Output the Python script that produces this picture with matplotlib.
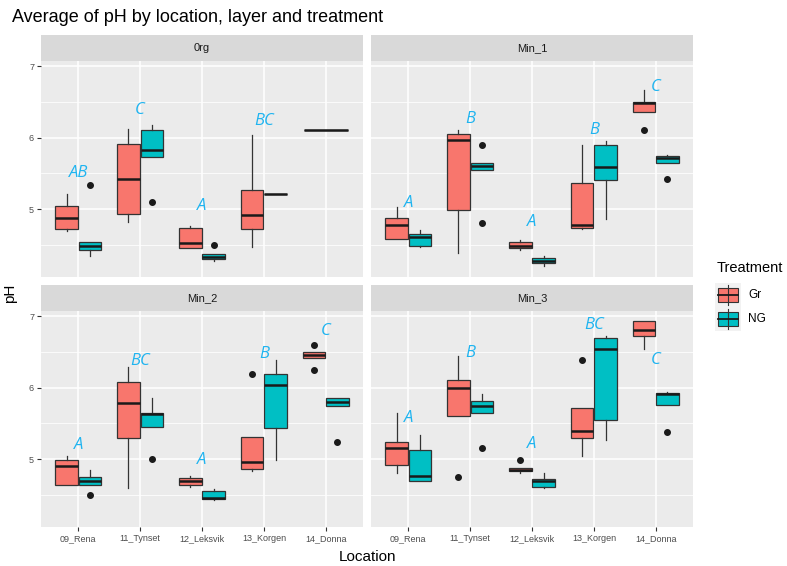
import matplotlib.pyplot as plt
from matplotlib.patches import Rectangle

plt.rcParams['font.family'] = ['Liberation Sans', 'DejaVu Sans']

locations = ['09_Rena', '11_Tynset', '12_Leksvik', '13_Korgen', '14_Donna']
layers = ['0rg', 'Min_1', 'Min_2', 'Min_3']
treatments = ['Gr', 'NG']
colors = {'Gr': '#F8766D', 'NG': '#00BFC4'}

# box stats per location: (whisker low, q1, median, q3, whisker high)
org_gr = [(4.69, 4.72, 4.87, 5.04, 5.21), (4.82, 4.93, 5.42, 5.91, 6.12), (4.46, 4.46, 4.52, 4.74, 4.77),
          (4.47, 4.72, 4.92, 5.26, 6.04), (6.11, 6.11, 6.11, 6.11, 6.11)]
org_ng = [(4.35, 4.43, 4.48, 4.54, 4.54), (5.73, 5.73, 5.83, 6.10, 6.17), (4.28, 4.30, 4.33, 4.37, 4.37),
          (5.21, 5.21, 5.21, 5.21, 5.21), None]
org_gr_out = [[], [], [], [], []]
org_ng_out = [[5.33], [5.10], [4.50], [], []]

min1_gr = [(4.58, 4.58, 4.78, 4.87, 5.03), (4.38, 4.99, 5.96, 6.05, 6.10), (4.43, 4.45, 4.49, 4.54, 4.57),
           (4.72, 4.74, 4.78, 5.36, 5.90), (6.35, 6.35, 6.48, 6.49, 6.66)]
min1_ng = [(4.47, 4.49, 4.61, 4.65, 4.71), (5.55, 5.55, 5.60, 5.64, 5.64), (4.20, 4.24, 4.28, 4.31, 4.34),
           (4.86, 5.41, 5.59, 5.89, 5.95), (5.64, 5.64, 5.72, 5.74, 5.76)]
min1_gr_out = [[], [], [], [], [6.11]]
min1_ng_out = [[], [5.90, 4.81], [], [], [5.42]]

min2_gr = [(4.64, 4.64, 4.90, 4.98, 5.04), (4.59, 5.29, 5.79, 6.08, 6.29), (4.61, 4.64, 4.70, 4.74, 4.76),
           (4.83, 4.86, 4.96, 5.31, 5.31), (6.41, 6.41, 6.45, 6.49, 6.49)]
min2_ng = [(4.64, 4.64, 4.69, 4.75, 4.84), (5.45, 5.45, 5.63, 5.65, 5.85), (4.43, 4.44, 4.45, 4.55, 4.58),
           (4.99, 5.44, 6.03, 6.19, 6.39), (5.74, 5.74, 5.80, 5.85, 5.85)]
min2_gr_out = [[], [], [], [6.19], [6.59, 6.25]]
min2_ng_out = [[4.50], [5.00], [], [], [5.24]]

min3_gr = [(4.81, 4.92, 5.15, 5.24, 5.65), (5.60, 5.60, 5.99, 6.11, 6.44), (4.81, 4.83, 4.85, 4.87, 4.87),
           (5.04, 5.29, 5.39, 5.71, 5.71), (6.54, 6.72, 6.80, 6.93, 6.93)]
min3_ng = [(4.69, 4.69, 4.76, 5.13, 5.34), (5.65, 5.65, 5.74, 5.81, 5.91), (4.59, 4.61, 4.70, 4.72, 4.81),
           (5.26, 5.55, 6.54, 6.69, 6.72), (5.76, 5.76, 5.91, 5.92, 5.94)]
min3_gr_out = [[], [4.75], [4.98], [6.39], []]
min3_ng_out = [[], [5.15], [], [], [5.38]]

# significance letters and their heights
org_letters = ['AB', 'C', 'A', 'BC', '']
org_letter_y = [5.50, 6.38, 5.04, 6.23, 0]
min1_letters = ['A', 'B', 'A', 'B', 'C']
min1_letter_y = [5.08, 6.26, 4.82, 6.11, 6.70]
min2_letters = ['A', 'BC', 'A', 'B', 'C']
min2_letter_y = [5.19, 6.37, 4.99, 6.47, 6.79]
min3_letters = ['A', 'B', 'A', 'BC', 'C']
min3_letter_y = [5.57, 6.48, 5.21, 6.87, 6.38]

panels = [
    (org_gr, org_ng, org_gr_out, org_ng_out, org_letters, org_letter_y),
    (min1_gr, min1_ng, min1_gr_out, min1_ng_out, min1_letters, min1_letter_y),
    (min2_gr, min2_ng, min2_gr_out, min2_ng_out, min2_letters, min2_letter_y),
    (min3_gr, min3_ng, min3_gr_out, min3_ng_out, min3_letters, min3_letter_y),
]

W, H = 787, 566
fig = plt.figure(figsize=(W / 100, H / 100), dpi=100)

def frac(x0, y0, x1, y1):
    return [x0 / W, 1 - y1 / H, (x1 - x0) / W, (y1 - y0) / H]

panel_px = [(41, 61, 363, 277), (371, 61, 693, 277), (41, 311, 363, 527), (371, 311, 693, 527)]
edge = '#333333'

for i, (layer, data, px) in enumerate(zip(layers, panels, panel_px)):
    gr, ng, gr_out, ng_out, letters, letter_y = data
    ax = fig.add_axes(frac(*px))
    ax.set_facecolor('#EBEBEB')
    for s in ax.spines.values():
        s.set_visible(False)
    ax.set_xlim(0.4, 5.6)
    ax.set_ylim(4.05, 7.07)
    ax.set_yticks([5, 6, 7])
    ax.set_yticks([4.5, 5.5, 6.5], minor=True)
    ax.set_xticks(range(1, 6))
    ax.grid(True, which='major', color='white', linewidth=1.1)
    ax.grid(True, which='minor', axis='y', color='white', linewidth=0.55)
    ax.set_axisbelow(True)
    ax.tick_params(which='minor', length=0)
    ax.tick_params(which='major', length=3, color='#333333', width=0.8, labelsize=6.5, labelcolor='#4D4D4D', pad=2)
    if i % 2 == 0:
        ax.set_yticklabels(['5', '6', '7'])
    else:
        ax.tick_params(axis='y', length=0, labelleft=False)
    if i >= 2:
        ax.set_xticklabels(locations)
    else:
        ax.tick_params(axis='x', length=0, labelbottom=False)

    for t, stats_list, outs, off in [('Gr', gr, gr_out, -0.1875), ('NG', ng, ng_out, 0.1875)]:
        for j, st in enumerate(stats_list):
            if st is None:
                continue
            pos = j + 1 + off
            width = 0.36
            # single-treatment location takes the full dodge width
            if t == 'Gr' and ng[j] is None:
                pos, width = j + 1, 0.72
            lo, q1, med, q3, hi = st
            stat = dict(whislo=lo, q1=q1, med=med, q3=q3, whishi=hi, fliers=outs[j])
            ax.bxp([stat], positions=[pos], widths=width, patch_artist=True,
                   boxprops=dict(facecolor=colors[t], edgecolor=edge, linewidth=0.9),
                   medianprops=dict(color='#1A1A1A', linewidth=1.8),
                   whiskerprops=dict(color=edge, linewidth=0.9),
                   capprops=dict(linewidth=0),
                   flierprops=dict(marker='o', markersize=4, markerfacecolor='#1A1A1A',
                                   markeredgecolor='#1A1A1A'),
                   manage_ticks=False)
    for j, (lab, ly) in enumerate(zip(letters, letter_y)):
        if lab:
            ax.text(j + 1, ly, lab, ha='center', va='center', color='#1FB4F0',
                    fontsize=12, style='italic', family=['Open Sans', 'DejaVu Sans'])

    # facet strip
    x0, y0, x1, y1 = px
    sax = fig.add_axes(frac(x0, y0 - 26, x1, y0))
    sax.set_facecolor('#D9D9D9')
    sax.set_xticks([])
    sax.set_yticks([])
    for s in sax.spines.values():
        s.set_visible(False)
    sax.text(0.5, 0.5, layer, ha='center', va='center', fontsize=8, color='#1A1A1A', transform=sax.transAxes)

fig.text(12 / W, 1 - 18 / H, 'Average of pH by location, layer and treatment', fontsize=13,
         ha='left', va='center', color='black')
fig.text(367 / W, 1 - 557 / H, 'Location', fontsize=11, ha='center', va='center')
fig.text(10 / W, 1 - 293 / H, 'pH', fontsize=11, ha='center', va='center', rotation=90)

# legend
lax = fig.add_axes(frac(705, 255, 787, 335))
lax.set_xlim(705, 787)
lax.set_ylim(335, 255)
lax.axis('off')
lax.text(717, 268, 'Treatment', fontsize=10.5, ha='left', va='center')
for k, t in enumerate(treatments):
    yc = 295 + k * 24
    lax.add_patch(Rectangle((715, yc - 12), 26, 24, facecolor='#F2F2F2', edgecolor='none'))
    lax.plot([728, 728], [yc - 10, yc + 10], color=edge, linewidth=0.8)
    lax.add_patch(Rectangle((718, yc - 7), 20, 14, facecolor=colors[t], edgecolor=edge, linewidth=0.8))
    lax.plot([718, 738], [yc, yc], color='#1A1A1A', linewidth=1.3)
    lax.text(748, yc, t, fontsize=8.5, ha='left', va='center')

fig.savefig('out.png', dpi=100)
